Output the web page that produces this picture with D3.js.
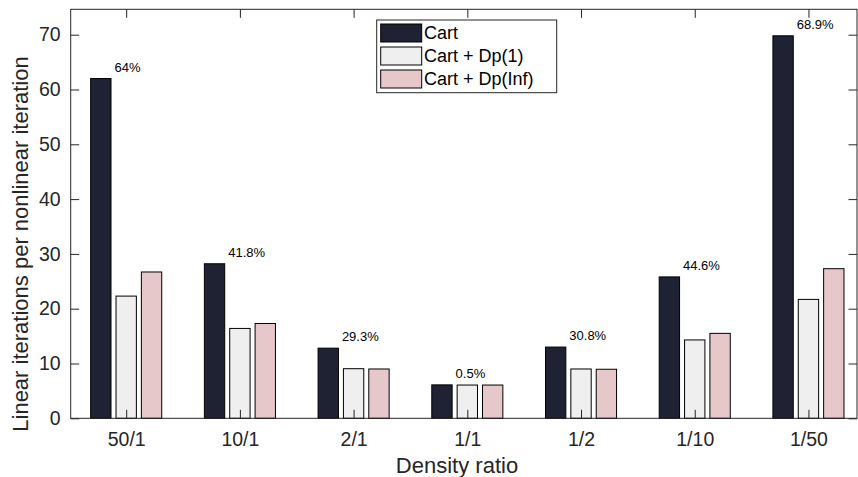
<!DOCTYPE html>
<html>
<head>
<meta charset="utf-8">
<script src="https://cdn.jsdelivr.net/npm/d3@7"></script>
<style>
  html, body { margin: 0; padding: 0; background: #fff; }
  svg { display: block; font-family: "Liberation Sans", Arial, Helvetica, sans-serif; }
</style>
</head>
<body>
<svg id="chart" width="858" height="477"></svg>
<script>
// Density ratios along the x axis
const categories = ["50/1", "10/1", "2/1", "1/1", "1/2", "1/10", "1/50"];
// Linear iterations per nonlinear iteration for each preconditioner
const cart     = [62.0, 28.2, 12.8, 6.10, 13.0, 25.8, 69.8];
const cartDp1  = [22.3, 16.4, 9.05, 6.07, 9.0, 14.3, 21.7];
const cartDpInf = [26.7, 17.3, 9.0, 6.07, 8.95, 15.5, 27.3];
// Reduction of Cart + Dp(1) relative to Cart
const reductions = ["64%", "41.8%", "29.3%", "0.5%", "30.8%", "44.6%", "68.9%"];
const seriesNames = ["Cart", "Cart + Dp(1)", "Cart + Dp(Inf)"];
const yTicks = [0, 10, 20, 30, 40, 50, 60, 70];

const series = [
  { name: seriesNames[0], values: cart,      fill: "#1f2233" },
  { name: seriesNames[1], values: cartDp1,   fill: "#efefef" },
  { name: seriesNames[2], values: cartDpInf, fill: "#e7c8ca" }
];

const svg = d3.select("#chart");
const axisColor = "#262626";
const plotL = 70.7, plotR = 857, plotT = 9.3, plotB = 418.3;

const x = d3.scaleLinear().domain([0.512, 7.427]).range([plotL, plotR]);
const y = d3.scaleLinear().domain([0, 70]).range([plotB, 34.7]);

const barOffset = 0.223, barWidth = 0.179;

// Bars
series.forEach((s, si) => {
  svg.append("g").selectAll("rect")
    .data(s.values)
    .join("rect")
    .attr("x", (d, i) => x(i + 1 + (si - 1) * barOffset - barWidth / 2))
    .attr("width", x(barWidth) - x(0))
    .attr("y", d => y(d))
    .attr("height", d => y(0) - y(d))
    .attr("fill", s.fill)
    .attr("stroke", "#000")
    .attr("stroke-width", 1);
});

// Percentage labels above the Cart bars
svg.append("g").selectAll("text")
  .data(reductions)
  .join("text")
  .attr("x", (d, i) => x(i + 1 - barOffset + 0.12))
  .attr("y", (d, i) => y(cart[i]) - 7)
  .attr("font-size", 13)
  .attr("fill", "#000")
  .text(d => d);

// Axes box with inward ticks on all sides
const tickLen = 8.5;
const xTickVals = d3.range(1, categories.length + 1);

const xAxisBottom = d3.axisBottom(x).tickValues(xTickVals)
  .tickFormat((d) => categories[d - 1]).tickSizeInner(-tickLen).tickSizeOuter(0).tickPadding(13.5);
const gxb = svg.append("g").attr("transform", `translate(0,${plotB})`).call(xAxisBottom);

const xAxisTop = d3.axisTop(x).tickValues(xTickVals).tickFormat("").tickSizeInner(-tickLen).tickSizeOuter(0);
const gxt = svg.append("g").attr("transform", `translate(0,${plotT})`).call(xAxisTop);

const yAxisLeft = d3.axisLeft(y).tickValues(yTicks).tickSizeInner(-tickLen).tickSizeOuter(0).tickPadding(10);
const gyl = svg.append("g").attr("transform", `translate(${plotL},0)`).call(yAxisLeft);

const yAxisRight = d3.axisRight(y).tickValues(yTicks).tickFormat("").tickSizeInner(-tickLen).tickSizeOuter(0);
const gyr = svg.append("g").attr("transform", `translate(${plotR},0)`).call(yAxisRight);

[gxb, gxt, gyl, gyr].forEach(g => {
  g.select(".domain").remove();
  g.selectAll("line").attr("stroke", axisColor).attr("stroke-width", 1);
  g.selectAll("text").attr("fill", axisColor).attr("font-size", 19.5)
    .attr("font-family", "'Liberation Sans', Arial, Helvetica, sans-serif");
});

// Frame lines
svg.append("rect")
  .attr("x", plotL).attr("y", plotT)
  .attr("width", plotR - plotL).attr("height", plotB - plotT)
  .attr("fill", "none").attr("stroke", axisColor).attr("stroke-width", 1);

// Axis titles
svg.append("text")
  .attr("x", 457).attr("y", 473)
  .attr("text-anchor", "middle").attr("font-size", 22).attr("fill", axisColor)
  .text("Density ratio");

svg.append("text")
  .attr("transform", "translate(27.5,244) rotate(-90)")
  .attr("text-anchor", "middle").attr("font-size", 22).attr("fill", axisColor)
  .text("Linear iterations per nonlinear iteration");

// Legend
const legend = svg.append("g");
legend.append("rect")
  .attr("x", 376.7).attr("y", 20)
  .attr("width", 180).attr("height", 72.7)
  .attr("fill", "#fff").attr("stroke", axisColor).attr("stroke-width", 1);

series.forEach((s, si) => {
  const ry = 24 + si * 23;
  legend.append("rect")
    .attr("x", 380.7).attr("y", ry)
    .attr("width", 41).attr("height", 18)
    .attr("fill", s.fill).attr("stroke", "#000").attr("stroke-width", 1);
  legend.append("text")
    .attr("x", 424).attr("y", ry + 9)
    .attr("dominant-baseline", "central")
    .attr("font-size", 18).attr("fill", "#000")
    .text(s.name);
});
</script>
</body>
</html>
